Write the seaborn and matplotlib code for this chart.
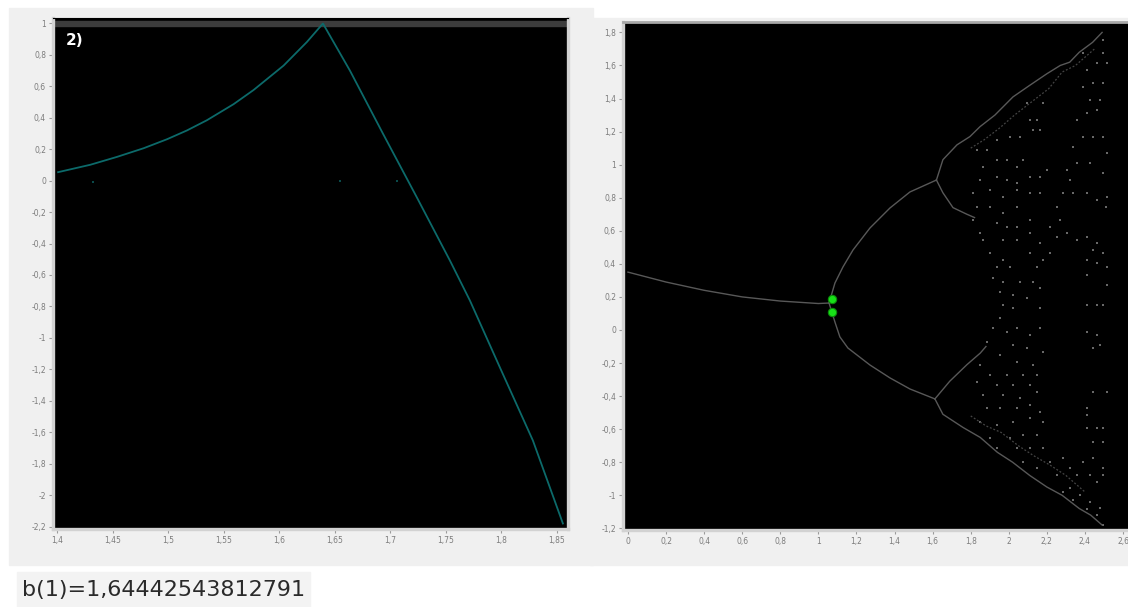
import matplotlib
matplotlib.use("Agg")
import matplotlib.pyplot as plt
import seaborn as sns
from matplotlib.patches import Rectangle

# ── left panel: b-curve ────────────────────────────────────────────
curve_x = [1.401, 1.430, 1.454, 1.478, 1.499, 1.517, 1.535, 1.559, 1.577, 1.604,
           1.625, 1.6394, 1.6637, 1.6934, 1.724, 1.7537, 1.7717, 1.7987, 1.8284,
           1.8554]
curve_y = [0.053, 0.100, 0.150, 0.205, 0.262, 0.318, 0.383, 0.485, 0.575, 0.730,
           0.880, 0.997, 0.698, 0.298, -0.108, -0.508, -0.762, -1.187, -1.651,
           -2.178]
stray_x = [1.432, 1.655, 1.706]
stray_y = [-0.01, 0.0, -0.005]

left_xticks = [1.4, 1.45, 1.5, 1.55, 1.6, 1.65, 1.7, 1.75, 1.8, 1.85]
left_yticks = [1, 0.8, 0.6, 0.4, 0.2, 0, -0.2, -0.4, -0.6, -0.8, -1, -1.2,
               -1.4, -1.6, -1.8, -2, -2.2]

# ── right panel: bifurcation diagram ───────────────────────────────
p1_x = [0.0, 0.2, 0.4, 0.6, 0.8, 1.0, 1.056]
p1_y = [0.35, 0.29, 0.24, 0.20, 0.175, 0.16, 0.163]

p2_up_x = [1.056, 1.087, 1.129, 1.182, 1.271, 1.376, 1.481, 1.620]
p2_up_y = [0.163, 0.284, 0.381, 0.484, 0.617, 0.738, 0.835, 0.907]
p2_lo_x = [1.056, 1.087, 1.113, 1.155, 1.271, 1.376, 1.481, 1.612]
p2_lo_y = [0.163, 0.048, -0.042, -0.109, -0.212, -0.290, -0.357, -0.417]

upper_env_x = [1.620, 1.654, 1.728, 1.796, 1.849, 1.927, 2.022, 2.110, 2.200,
               2.270, 2.320, 2.370, 2.440, 2.490]
upper_env_y = [0.907, 1.030, 1.120, 1.170, 1.230, 1.300, 1.410, 1.480, 1.550,
               1.600, 1.620, 1.680, 1.740, 1.800]
upper_in_x = [1.800, 1.870, 1.950, 2.030, 2.120, 2.210, 2.280, 2.350, 2.450]
upper_in_y = [1.100, 1.150, 1.220, 1.300, 1.380, 1.460, 1.560, 1.600, 1.700]
u_down_x = [1.620, 1.654, 1.707, 1.780, 1.820]
u_down_y = [0.907, 0.830, 0.740, 0.700, 0.680]

lower_env_x = [1.612, 1.654, 1.760, 1.850, 1.940, 2.020, 2.110, 2.200, 2.280,
               2.370, 2.430, 2.490]
lower_env_y = [-0.417, -0.510, -0.590, -0.650, -0.740, -0.800, -0.880, -0.950,
               -1.000, -1.080, -1.120, -1.180]
lower_in_x = [1.800, 1.880, 1.960, 2.050, 2.130, 2.220, 2.300, 2.400]
lower_in_y = [-0.520, -0.580, -0.620, -0.700, -0.760, -0.820, -0.880, -0.980]
l_up_x = [1.612, 1.690, 1.780, 1.850, 1.880]
l_up_y = [-0.417, -0.310, -0.210, -0.140, -0.100]

chaos_x = [1.831, 1.884, 1.936, 2.006, 2.059, 2.111, 2.146, 2.094, 2.181, 2.129,
           2.164, 1.866, 1.936, 1.989, 2.041, 2.076, 1.849, 1.936, 1.989, 2.041,
           2.111, 2.164, 2.199, 1.814, 1.901, 1.971, 2.041, 2.111, 2.164, 1.831,
           1.901, 1.971, 2.041, 1.814, 1.849, 1.936, 1.989, 2.041, 2.111, 1.866,
           1.971, 2.041, 1.901, 1.971, 2.111, 2.181, 1.936, 2.006, 2.146, 2.216,
           2.269, 2.304, 2.357, 2.409, 2.462, 2.251, 2.286, 2.339, 2.409, 2.462,
           2.514, 2.322, 2.304, 2.357, 2.427, 2.339, 2.392, 2.444, 2.497, 2.357,
           2.409, 2.462, 2.427, 2.479, 2.392, 2.444, 2.497, 2.409, 2.462, 2.514,
           2.392, 2.497, 2.497, 2.444, 2.497, 2.409, 2.462, 2.514, 2.510, 2.497,
           2.514, 2.111, 2.164, 2.216, 2.251,
           1.919, 1.971, 2.059, 2.129, 2.164, 1.954, 2.024, 2.094, 1.971, 2.024,
           2.164, 1.954, 1.919, 1.989, 2.041, 2.111, 2.164, 1.884, 2.024, 2.094,
           2.181, 1.954, 2.041, 2.129, 1.849, 1.901, 1.989, 2.076, 2.146, 1.831,
           1.936, 2.024, 2.111, 1.866, 1.971, 2.059, 2.146, 1.884, 1.954, 2.041,
           2.111, 2.164, 1.849, 1.936, 2.024, 2.111, 2.181, 1.901, 2.006, 2.076,
           2.146, 1.936, 2.041, 2.111, 2.181, 2.076, 2.146, 2.216, 2.251, 2.286,
           2.322, 2.357, 2.392, 2.427, 2.462, 2.322, 2.374, 2.427, 2.479, 2.286,
           2.339, 2.409, 2.462, 2.497, 2.444, 2.497, 2.497, 2.409, 2.462, 2.497,
           2.409, 2.462, 2.479, 2.444, 2.514, 2.444, 2.514, 2.409, 2.409, 2.462,
           2.409, 2.497, 2.444, 2.497, 2.409]
chaos_y = [1.089, 1.089, 1.149, 1.169, 1.169, 1.270, 1.270, 1.371, 1.371, 1.210,
           1.210, 0.988, 1.028, 1.028, 0.988, 1.028, 0.907, 0.927, 0.907, 0.887,
           0.927, 0.927, 0.968, 0.827, 0.847, 0.806, 0.847, 0.827, 0.827, 0.746,
           0.746, 0.706, 0.746, 0.665, 0.585, 0.645, 0.625, 0.625, 0.665, 0.544,
           0.544, 0.544, 0.464, 0.423, 0.464, 0.423, 0.383, 0.383, 0.383, 0.625,
           0.665, 0.585, 0.544, 0.565, 0.524, 0.746, 0.827, 0.827, 0.827, 0.786,
           0.806, 0.907, 0.968, 1.008, 1.008, 1.109, 1.169, 1.169, 1.169, 1.270,
           1.310, 1.331, 1.391, 1.391, 1.472, 1.492, 1.492, 1.573, 1.613, 1.613,
           1.673, 1.673, 1.754, 0.484, 0.464, 0.423, 0.403, 0.383, 0.746, 0.948,
           1.069, 0.585, 0.524, 0.464, 0.565,
           0.313, 0.293, 0.293, 0.293, 0.252, 0.232, 0.212, 0.192, 0.152, 0.131,
           0.131, 0.071, 0.010, -0.010, 0.010, -0.030, 0.010, -0.070, -0.090, -0.111,
           -0.131, -0.151, -0.191, -0.211, -0.211, -0.272, -0.272, -0.272, -0.272, -0.312,
           -0.332, -0.332, -0.332, -0.393, -0.393, -0.413, -0.373, -0.473, -0.473, -0.473,
           -0.453, -0.494, -0.554, -0.574, -0.554, -0.534, -0.554, -0.655, -0.655, -0.635,
           -0.635, -0.715, -0.715, -0.715, -0.715, -0.796, -0.836, -0.796, -0.877, -0.776,
           -0.836, -0.877, -0.796, -0.877, -0.917, -0.957, -0.998, -1.038, -1.078, -0.980,
           -1.030, -1.080, -1.120, -1.179, -0.776, -0.836, -0.877, 0.152, 0.152, 0.152,
           -0.010, -0.030, -0.090, -0.111, 0.273, -0.373, -0.373, -0.473, -0.514, -0.594,
           -0.594, -0.594, -0.675, -0.675, 0.333]

green_x = [1.071, 1.071]
green_y = [0.190, 0.110]

right_xticks = [0, 0.2, 0.4, 0.6, 0.8, 1, 1.2, 1.4, 1.6, 1.8, 2, 2.2, 2.4, 2.6]
right_yticks = [1.8, 1.6, 1.4, 1.2, 1, 0.8, 0.6, 0.4, 0.2, 0, -0.2, -0.4, -0.6,
                -0.8, -1, -1.2]

note = "b(1)=1,64442543812791"

W, H = 1128, 607


def box(x0, y0, x1, y1):
    return [x0 / W, 1 - y1 / H, (x1 - x0) / W, (y1 - y0) / H]


def comma(v):
    return f"{v:g}".replace(".", ",")


fig = plt.figure(figsize=(W / 100, H / 100), dpi=100)
fig.patch.set_facecolor("white")

# panel backgrounds (behind the axes)
for (x0, y0, x1, y1), c in [((9, 8, 593, 565), "#f0f0f0"),
                            ((590, 18, 1128, 565), "#f0f0f0"),
                            ((17, 572, 310, 607), "#f3f3f3")]:
    fig.patches.append(Rectangle((x0 / W, 1 - y1 / H), (x1 - x0) / W, (y1 - y0) / H,
                                 transform=fig.transFigure, color=c, zorder=-5))

ax1 = fig.add_axes(box(53, 18, 568, 529))
ax2 = fig.add_axes(box(623, 22, 1128, 530))

for ax in (ax1, ax2):
    ax.set_zorder(2)
    ax.set_facecolor("black")
    ax.tick_params(colors="#9a9a9a", labelcolor="#7c7c7c", labelsize=5.5,
                   length=3, width=0.8, pad=2)
    for side in ("left", "bottom", "right"):
        ax.spines[side].set_color("#d2d2d2")
        ax.spines[side].set_linewidth(2.4)

ax1.spines["top"].set_color("black")
ax2.spines["top"].set_color("#a8a8a8")
ax2.spines["top"].set_linewidth(2)
ax2.spines["right"].set_visible(False)

# left plot
ax1.axhspan(0.981, 1.016, color="#3c3c3c", zorder=1)
sns.lineplot(x=curve_x, y=curve_y, ax=ax1, color="#0c6a6a", lw=1.3,
             sort=False, estimator=None, zorder=3)
sns.scatterplot(x=stray_x, y=stray_y, ax=ax1, color="#0a4a4a", marker="s",
                s=3, linewidth=0, zorder=3)
ax1.set_xlim(1.3964, 1.86)
ax1.set_ylim(-2.213, 1.032)
ax1.set_xticks(left_xticks)
ax1.set_xticklabels([comma(v) for v in left_xticks])
ax1.set_yticks(left_yticks)
ax1.set_yticklabels([comma(v) for v in left_yticks])
ax1.text(0.025, 0.955, "2)", transform=ax1.transAxes, color="white",
         fontsize=11, fontweight="bold", ha="left", va="center")

# right plot
branch_kw = dict(ax=ax2, color="#585858", lw=1.0, sort=False, estimator=None)
for bx, by in [(p1_x, p1_y), (p2_up_x, p2_up_y), (p2_lo_x, p2_lo_y),
               (upper_env_x, upper_env_y), (u_down_x, u_down_y),
               (lower_env_x, lower_env_y), (l_up_x, l_up_y)]:
    sns.lineplot(x=bx, y=by, **branch_kw)
for bx, by in [(upper_in_x, upper_in_y), (lower_in_x, lower_in_y)]:
    sns.lineplot(x=bx, y=by, ax=ax2, color="#444444", lw=0.9, sort=False,
                 estimator=None, linestyle=(0, (1.5, 1.5)))
sns.scatterplot(x=chaos_x, y=chaos_y, ax=ax2, color="#686868", marker="s",
                s=4, linewidth=0)
sns.scatterplot(x=green_x, y=green_y, ax=ax2, color="#18e018", marker="o",
                s=36, edgecolor="#0b8a0b", linewidth=0.8, zorder=5)
ax2.set_xlim(-0.026, 2.626)
ax2.set_ylim(-1.21, 1.863)
ax2.set_xticks(right_xticks)
ax2.set_xticklabels([comma(v) for v in right_xticks])
ax2.set_yticks(right_yticks)
ax2.set_yticklabels([comma(v) for v in right_yticks])

fig.text(22 / W, 1 - 590 / H, note, fontsize=16, color="#2a2a2a",
         ha="left", va="center")

fig.savefig("out.png", dpi=100, facecolor=fig.get_facecolor())
